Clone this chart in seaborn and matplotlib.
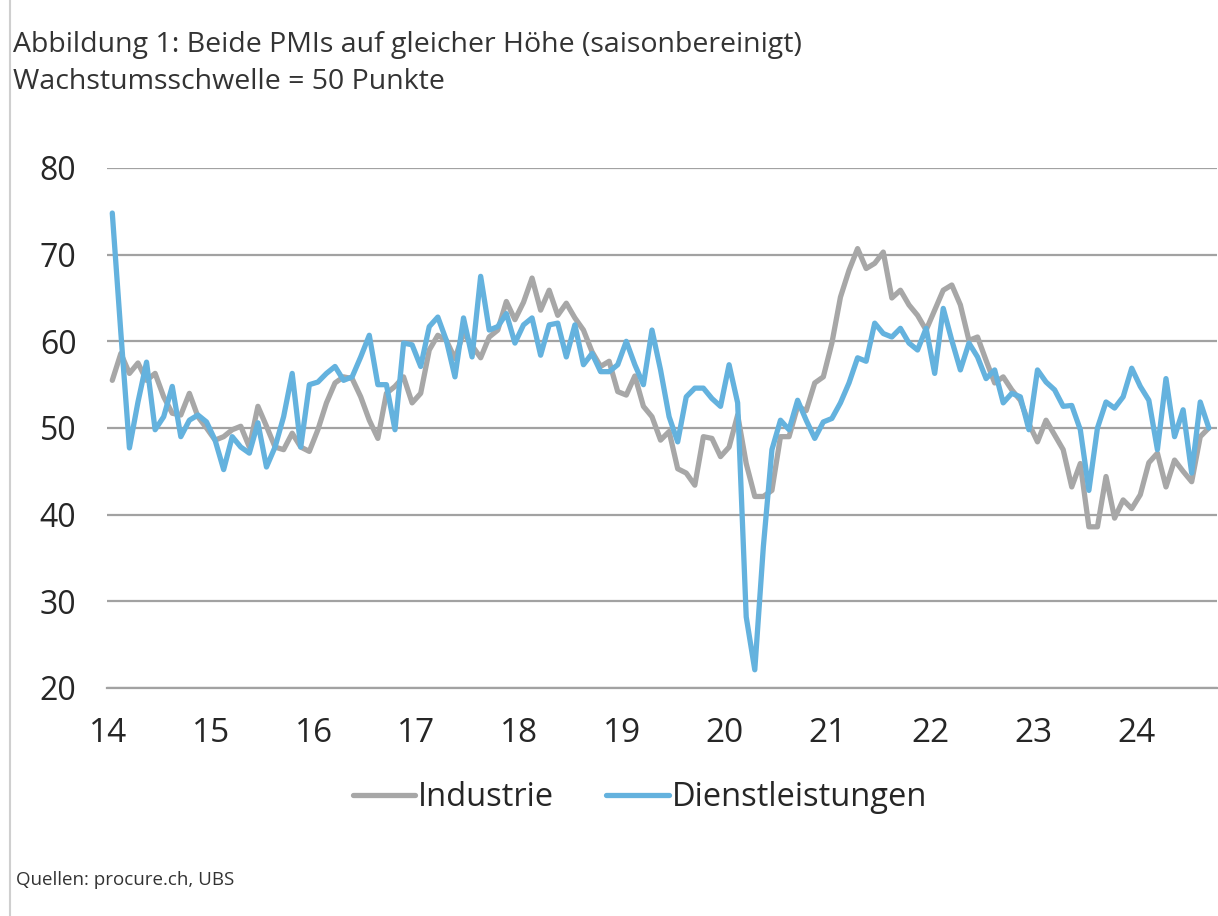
import matplotlib
matplotlib.use("Agg")
import numpy as np
import pandas as pd
import seaborn as sns
import matplotlib.pyplot as plt
from matplotlib import font_manager as fm
from matplotlib.lines import Line2D

# ---------------- data ----------------
years = list(range(2014, 2025))
year_labels = [str(y)[2:] for y in years]
y_ticks = [20, 30, 40, 50, 60, 70, 80]

industrie = [
    55.5, 58.6, 56.3, 57.5, 55.5, 56.3, 53.6, 51.7, 51.5, 54.0, 51.3, 50.0,
    48.6, 49.0, 49.8, 50.2, 47.8, 52.5, 50.2, 47.8, 47.5, 49.4, 47.8, 47.3,
    49.8, 52.9, 55.2, 55.9, 55.7, 53.6, 50.9, 48.8, 54.0, 54.8, 55.9, 52.9,
    54.0, 59.0, 60.7, 60.1, 58.0, 61.0, 59.5, 58.1, 60.5, 61.3, 64.6, 62.5,
    64.5, 67.3, 63.6, 65.9, 63.0, 64.4, 62.7, 61.3, 58.8, 57.1, 57.7, 54.2,
    53.8, 56.0, 52.5, 51.3, 48.6, 49.6, 45.3, 44.8, 43.4, 49.0, 48.8, 46.7,
    47.8, 51.5, 45.9, 42.1, 42.1, 42.8, 49.0, 49.0, 52.5, 52.0, 55.2, 55.9,
    59.8, 65.1, 68.2, 70.7, 68.4, 69.0, 70.3, 65.0, 65.9, 64.2, 63.0, 61.3,
    63.6, 65.9, 66.5, 64.2, 60.1, 60.5, 57.8, 55.2, 55.9, 54.4, 53.2, 50.5,
    48.4, 50.9, 49.2, 47.5, 43.2, 45.9, 38.6, 38.6, 44.4, 39.6, 41.7, 40.7,
    42.3, 46.0, 47.1, 43.2, 46.3, 45.0, 43.8, 49.0, 50.0,
]

dienstleistungen = [
    74.8, 61.0, 47.7, 53.0, 57.6, 49.8, 51.3, 54.8, 49.0, 50.9, 51.5, 50.7,
    48.6, 45.2, 49.0, 47.8, 47.1, 50.6, 45.5, 47.8, 51.3, 56.3, 47.8, 55.0,
    55.3, 56.3, 57.1, 55.5, 55.9, 58.2, 60.7, 55.0, 55.0, 49.8, 59.8, 59.6,
    57.1, 61.7, 62.8, 60.1, 55.9, 62.7, 58.2, 67.5, 61.3, 61.7, 63.2, 59.8,
    61.9, 62.7, 58.4, 61.9, 62.1, 58.2, 61.9, 57.3, 58.6, 56.5, 56.5, 57.3,
    60.0, 57.3, 55.0, 61.3, 56.7, 51.3, 48.4, 53.6, 54.6, 54.6, 53.4, 52.5,
    57.3, 52.9, 28.2, 22.1, 36.3, 47.5, 50.9, 49.8, 53.2, 50.9, 48.8, 50.7,
    51.1, 52.9, 55.2, 58.1, 57.7, 62.1, 60.9, 60.5, 61.5, 59.8, 59.0, 61.5,
    56.3, 63.8, 60.1, 56.7, 59.8, 58.2, 55.7, 56.7, 52.9, 54.0, 53.6, 49.8,
    56.7, 55.3, 54.4, 52.5, 52.6, 49.8, 42.8, 50.0, 53.0, 52.3, 53.6, 56.9,
    54.8, 53.2, 47.5, 55.7, 49.0, 52.1, 44.8, 53.0, 50.0,
]

series_names = ["Industrie", "Dienstleistungen"]
start_year = 2014

title_1 = "Abbildung 1: Beide PMIs auf gleicher Höhe (saisonbereinigt)"
title_2 = "Wachstumsschwelle = 50 Punkte"
source = "Quellen: procure.ch, UBS"

# ---------------- style ----------------
GREY = "#a7a7a7"
BLUE = "#64b2de"
GRID = "#a2a2a2"
TXT = "#262626"

sns.set_theme(style="white")
installed = {f.name for f in fm.fontManager.ttflist}
main_font = "Open Sans" if "Open Sans" in installed else "DejaVu Sans"
plt.rcParams["font.family"] = [main_font, "DejaVu Sans"]

n = len(industrie)
t = [start_year + (i + 0.5) / 12 for i in range(n)]
df = pd.DataFrame({
    "t": t + t,
    "v": industrie + dienstleistungen,
    "s": [series_names[0]] * n + [series_names[1]] * n,
})

W, H = 1218, 916
fig = plt.figure(figsize=(W / 100, H / 100), dpi=100)
fig.patch.set_facecolor("white")

ax_l, ax_r, ax_t, ax_b = 107, 1217, 168, 688
ax = fig.add_axes([ax_l / W, 1 - ax_b / H, (ax_r - ax_l) / W, (ax_b - ax_t) / H])

sns.lineplot(data=df, x="t", y="v", hue="s", hue_order=series_names,
             palette={series_names[0]: GREY, series_names[1]: BLUE},
             linewidth=3.8, ax=ax, legend=False, estimator=None, sort=False)
for ln in ax.lines:
    ln.set_solid_joinstyle("round")
    ln.set_solid_capstyle("round")

px_per_year = 102.8
ax.set_xlim(start_year - 1 / px_per_year, start_year + (ax_r - 108) / px_per_year)
ax.set_ylim(20, 80)
ax.set_xticks(years)
ax.set_xticklabels(year_labels)
ax.set_yticks(y_ticks)
ax.set_xlabel("")
ax.set_ylabel("")

ax.set_axisbelow(True)
ax.yaxis.grid(True, color=GRID, linewidth=1.6)
ax.xaxis.grid(False)
for side in ["top", "right", "left"]:
    ax.spines[side].set_visible(False)
ax.spines["bottom"].set_color(GRID)
ax.spines["bottom"].set_linewidth(1.6)

ax.tick_params(axis="x", direction="out", length=7, width=1.6, color=GRID,
               pad=14, labelsize=24, labelcolor=TXT)
ax.tick_params(axis="y", length=0, pad=22, labelsize=23, labelcolor=TXT)

# legend
handles = [Line2D([0], [0], color=GREY, lw=3.8),
           Line2D([0], [0], color=BLUE, lw=3.8)]
fig.legend(handles, series_names, loc="center",
           bbox_to_anchor=(640 / W, 1 - 798 / H), ncol=2, frameon=False,
           handlelength=1.9, handletextpad=0.1, columnspacing=1.6,
           prop={"size": 23.5}, labelcolor=TXT)

# titles and source
fig.text(13 / W, 1 - 45 / H, title_1, fontsize=20.5, color="#333333", va="center", ha="left")
fig.text(13 / W, 1 - 82 / H, title_2, fontsize=20.5, color="#333333", va="center", ha="left")
fig.text(16 / W, 1 - 880 / H, source, fontsize=13.5, color="#333333", va="center", ha="left")

# screenshot border on the left
fig.add_artist(Line2D([10 / W, 10 / W], [0, 1], color="#cfcfcf", lw=1.5))

fig.savefig("out.png", dpi=100, facecolor="white")
